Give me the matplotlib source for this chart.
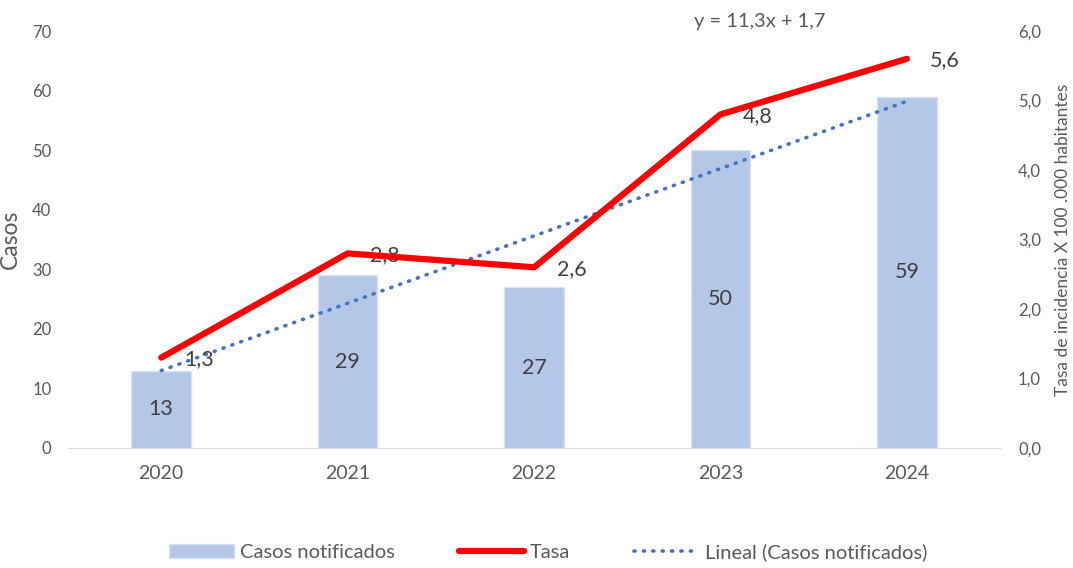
import matplotlib
matplotlib.use('Agg')
import matplotlib.pyplot as plt
import numpy as np

plt.rcParams['font.family'] = ['Lato', 'DejaVu Sans']

years = ['2020', '2021', '2022', '2023', '2024']
casos = [13, 29, 27, 50, 59]
tasa = [1.3, 2.8, 2.6, 4.8, 5.6]
tasa_labels = ['1,3', '2,8', '2,6', '4,8', '5,6']

fig = plt.figure(figsize=(10.73, 5.68), dpi=100)
ax = fig.add_axes([0.0634, 0.2113, 0.8686, 0.7341])
ax2 = ax.twinx()

x = np.arange(len(years))
ax.bar(x, casos, width=0.32, color='#B4C7E7', edgecolor='#DAE3F3', lw=1,
       label='Casos notificados', zorder=2)
for xi, v in zip(x, casos):
    ax.text(xi, v / 2, str(v), ha='center', va='center', fontsize=15.5, color='#404040', zorder=5)

# linear trend of cases (Excel-style, x = 1..n)
slope, intercept = np.polyfit(x + 1, casos, 1)
trend = slope * (x + 1) + intercept
ax.plot(x, trend, color='#4472C4', lw=2.6, ls=(0, (0.3, 2.3)), dash_capstyle='round',
        label='Lineal (Casos notificados)', zorder=3)

ax2.plot(x, tasa, color='#FF0000', lw=4.5, solid_capstyle='round', label='Tasa', zorder=4)
for xi, v, t in zip(x, tasa, tasa_labels):
    ax2.annotate(t, (xi, v), xytext=(27, -1), textcoords='offset points',
                 ha='center', va='center', fontsize=15.5, color='#404040')

ax.set_xlim(-0.5, 4.5)
ax.set_ylim(0, 70)
ax.set_yticks(range(0, 71, 10))
ax2.set_ylim(0, 6)
ax2.set_yticks(np.arange(0, 6.1, 1))
ax2.set_yticklabels([f'{v:.1f}'.replace('.', ',') for v in np.arange(0, 6.1, 1)])
ax.set_xticks(x)
ax.set_xticklabels(years)

for a in (ax, ax2):
    for s in a.spines.values():
        s.set_visible(False)
    a.tick_params(length=0, colors='#595959', labelsize=12)
ax.spines['bottom'].set_visible(True)
ax.spines['bottom'].set_color('#D9D9D9')
ax.tick_params(axis='x', labelsize=14, pad=12)
ax.tick_params(axis='y', pad=12)
ax2.tick_params(axis='y', pad=13)

ax.set_ylabel('Casos', fontsize=16.5, color='#595959', labelpad=8)
ax2.set_ylabel('Tasa de incidencia X 100 .000 habitantes', fontsize=12.5, color='#595959', labelpad=10)

fig.text(0.708, 0.962, 'y = 11,3x + 1,7', ha='center', va='center', fontsize=14.5, color='#595959')

h1, l1 = ax.get_legend_handles_labels()
h2, l2 = ax2.get_legend_handles_labels()
fig.legend([h1[1], h2[0], h1[0]], [l1[1], l2[0], l1[0]], loc='center', bbox_to_anchor=(0.511, 0.028),
           ncol=3, frameon=False, fontsize=14.5, labelcolor='#595959', handlelength=3.2,
           columnspacing=3.2, handletextpad=0.3)

fig.savefig('out.png', dpi=100)
